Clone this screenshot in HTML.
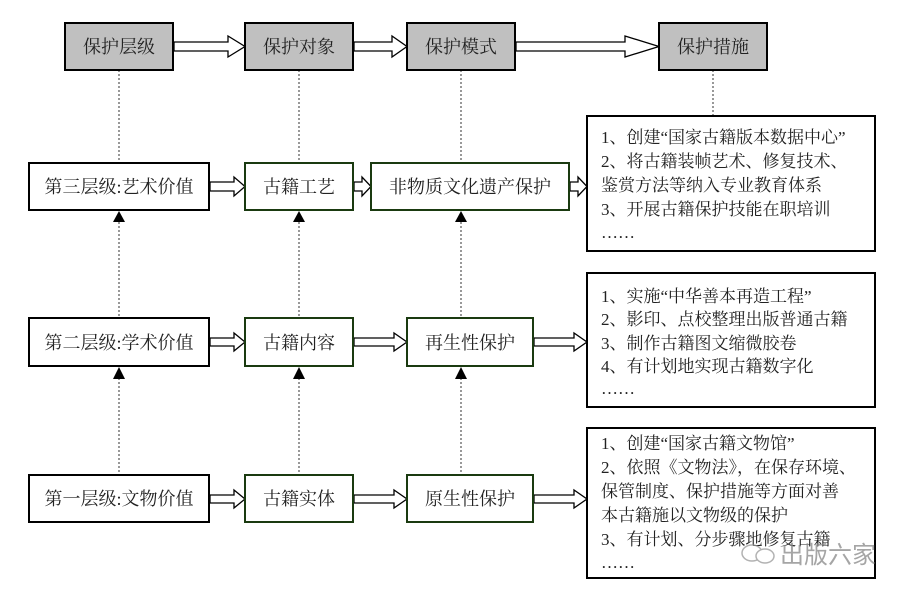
<!DOCTYPE html>
<html><head><meta charset="utf-8"><style>
html,body{margin:0;padding:0;background:#fff;}
svg text{font-family:"Liberation Serif","Noto Serif CJK SC","Noto Sans CJK SC",serif;font-size:17px;fill:#222;}
</style></head><body>
<svg width="900" height="595" viewBox="0 0 900 595" xmlns="http://www.w3.org/2000/svg">
<g stroke="#555" stroke-width="1.2" stroke-dasharray="2,2">
<line x1="119" y1="70" x2="119" y2="163"/>
<line x1="299" y1="70" x2="299" y2="163"/>
<line x1="461" y1="70" x2="461" y2="163"/>
<line x1="713" y1="70" x2="713" y2="116"/>
<line x1="119" y1="222" x2="119" y2="318"/>
<line x1="299" y1="222" x2="299" y2="318"/>
<line x1="461" y1="222" x2="461" y2="318"/>
<line x1="119" y1="378" x2="119" y2="475"/>
<line x1="299" y1="378" x2="299" y2="475"/>
<line x1="461" y1="378" x2="461" y2="475"/>
</g>
<g fill="#000">
<polygon points="113,222 125,222 119,211"/>
<polygon points="293,222 305,222 299,211"/>
<polygon points="455,222 467,222 461,211"/>
<polygon points="113,379 125,379 119,367"/>
<polygon points="293,379 305,379 299,367"/>
<polygon points="455,379 467,379 461,367"/>
</g>
<g fill="#fff" stroke="#000" stroke-width="1.3">
<polygon points="174,42 228,42 228,36 245,46.5 228,57 228,51 174,51"/>
<polygon points="354,42 392,42 392,36 407,46.5 392,57 392,51 354,51"/>
<polygon points="516,42 625,42 625,36 659,46.5 625,57 625,51 516,51"/>
<polygon points="210,182 234,182 234,177 245,186.5 234,196 234,191 210,191"/>
<polygon points="354,182 362,182 362,177 371,186.5 362,196 362,191 354,191"/>
<polygon points="570,182 578,182 578,177 587,186.5 578,196 578,191 570,191"/>
<polygon points="210,338 234,338 234,333 245,342 234,351 234,346 210,346"/>
<polygon points="354,338 394,338 394,333 407,342 394,351 394,346 354,346"/>
<polygon points="534,338 574,338 574,333 587,342 574,351 574,346 534,346"/>
<polygon points="210,495 234,495 234,490 245,499 234,508 234,503 210,503"/>
<polygon points="354,495 394,495 394,490 407,499 394,508 394,503 354,503"/>
<polygon points="534,495 574,495 574,490 587,499 574,508 574,503 534,503"/>
</g>
<g fill="#c0c0c0" stroke="#000" stroke-width="2">
<rect x="65" y="23" width="108" height="47"/>
<rect x="245" y="23" width="108" height="47"/>
<rect x="407" y="23" width="108" height="47"/>
<rect x="659" y="23" width="108" height="47"/>
</g>
<g text-anchor="middle" style="font-size:18px">
<text x="119" y="53" style="font-size:18px">保护层级</text>
<text x="299" y="53" style="font-size:18px">保护对象</text>
<text x="461" y="53" style="font-size:18px">保护模式</text>
<text x="713" y="53" style="font-size:18px">保护措施</text>
</g>
<g fill="#fff" stroke="#000" stroke-width="2">
<rect x="29" y="163" width="180" height="47"/>
<rect x="29" y="318" width="180" height="48"/>
<rect x="29" y="475" width="180" height="47"/>
<rect x="587" y="116" width="288" height="135"/>
<rect x="587" y="273" width="288" height="134"/>
<rect x="587" y="428" width="288" height="150"/>
</g>
<g fill="#fff" stroke="#1a3a10" stroke-width="2">
<rect x="245" y="163" width="108" height="47"/>
<rect x="371" y="163" width="198" height="47"/>
<rect x="245" y="318" width="108" height="48"/>
<rect x="407" y="318" width="126" height="48"/>
<rect x="245" y="475" width="108" height="47"/>
<rect x="407" y="475" width="126" height="47"/>
</g>
<g text-anchor="middle">
<text x="119" y="193" style="font-size:18px">第三层级:艺术价值</text>
<text x="299" y="193" style="font-size:18px">古籍工艺</text>
<text x="470" y="193" style="font-size:18px">非物质文化遗产保护</text>
<text x="119" y="349" style="font-size:18px">第二层级:学术价值</text>
<text x="299" y="349" style="font-size:18px">古籍内容</text>
<text x="470" y="349" style="font-size:18px">再生性保护</text>
<text x="119" y="505" style="font-size:18px">第一层级:文物价值</text>
<text x="299" y="505" style="font-size:18px">古籍实体</text>
<text x="470" y="505" style="font-size:18px">原生性保护</text>
</g>
<g>
<text x="601" y="143">1、创建“国家古籍版本数据中心”</text>
<text x="601" y="167">2、将古籍装帧艺术、修复技术、</text>
<text x="601" y="191">鉴赏方法等纳入专业教育体系</text>
<text x="601" y="215">3、开展古籍保护技能在职培训</text>
<text x="601" y="238">……</text>
<text x="601" y="302">1、实施“中华善本再造工程”</text>
<text x="601" y="325">2、影印、点校整理出版普通古籍</text>
<text x="601" y="349">3、制作古籍图文缩微胶卷</text>
<text x="601" y="372">4、有计划地实现古籍数字化</text>
<text x="601" y="394">……</text>
<text x="601" y="449">1、创建“国家古籍文物馆”</text>
<text x="601" y="473">2、依照《文物法》，在保存环境、</text>
<text x="601" y="497">保管制度、保护措施等方面对善</text>
<text x="601" y="521">本古籍施以文物级的保护</text>
<text x="601" y="545">3、有计划、分步骤地修复古籍</text>
<text x="601" y="568">……</text>
</g>
<g opacity="0.75">
<ellipse cx="752" cy="553" rx="10" ry="8" fill="none" stroke="#999" stroke-width="1.5"/>
<ellipse cx="765" cy="556" rx="9" ry="7" fill="#fff" stroke="#999" stroke-width="1.5"/>
<text x="780" y="563" style="font-size:24px;fill:#888;font-family:'Noto Sans CJK SC',sans-serif">出版六家</text>
</g>
</svg>
</body></html>
